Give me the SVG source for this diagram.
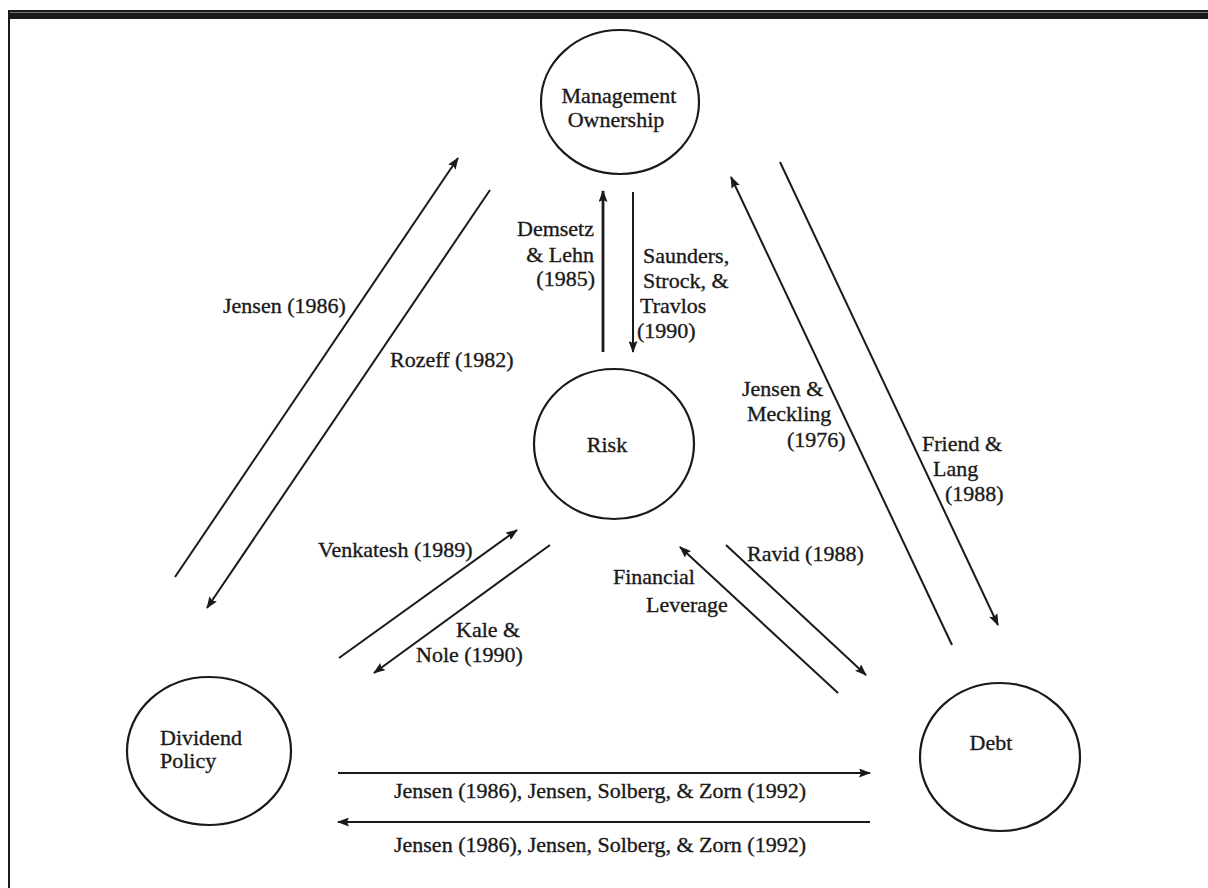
<svg xmlns="http://www.w3.org/2000/svg" width="1208" height="888" viewBox="0 0 1208 888">
<defs>
<marker id="ah" viewBox="0 0 12 9" refX="11" refY="4.5" markerWidth="12" markerHeight="9" markerUnits="userSpaceOnUse" orient="auto">
<path d="M0,0 L12,4.5 L0,9 L2,4.5 z" fill="#1a1a1a"/>
</marker>
<style>
.t{font-family:"Liberation Serif","Times New Roman",serif;font-size:22px;fill:#1a1a1a;stroke:#1a1a1a;stroke-width:0.35}
.m{text-anchor:middle}
.e{text-anchor:end}
.n{fill:none;stroke:#1a1a1a;stroke-width:2.2}
.c{fill:none;stroke:#1a1a1a;stroke-width:2;marker-end:url(#ah)}
</style>
</defs>
<rect width="1208" height="888" fill="#ffffff"/>
<g id="frame">
<rect x="8" y="10" width="1200" height="9" fill="#1a1a1a"/>
<line x1="10" y1="12.5" x2="1208" y2="12.5" stroke="#777" stroke-width="1"/>
<rect x="8" y="10" width="2" height="878" fill="#1a1a1a"/>
</g>
<g id="node-management">
<ellipse class="n" cx="620" cy="102" rx="79" ry="72"/>
<text class="t m" x="619" y="103">Management</text>
<text class="t m" x="616" y="127">Ownership</text>
</g>
<g id="node-risk">
<ellipse class="n" cx="614" cy="444" rx="80" ry="75"/>
<text class="t m" x="607" y="452">Risk</text>
</g>
<g id="node-dividend">
<ellipse class="n" cx="209" cy="751" rx="82" ry="74"/>
<text class="t" x="160" y="745">Dividend</text>
<text class="t" x="160" y="768">Policy</text>
</g>
<g id="node-debt">
<ellipse class="n" cx="1000" cy="757" rx="80" ry="74"/>
<text class="t m" x="991" y="750">Debt</text>
</g>
<g id="connectors">
<line class="c" x1="175" y1="577" x2="458" y2="158"/>
<line class="c" x1="490" y1="190" x2="207" y2="608"/>
<line class="c" x1="603" y1="352" x2="603" y2="191" style="stroke-width:2.8"/>
<line class="c" x1="633" y1="192" x2="633" y2="352"/>
<line class="c" x1="952" y1="645" x2="731" y2="177"/>
<line class="c" x1="780" y1="162" x2="998" y2="625"/>
<line class="c" x1="339" y1="658" x2="517" y2="530"/>
<line class="c" x1="550" y1="545" x2="374" y2="673"/>
<line class="c" x1="838" y1="693" x2="680" y2="547"/>
<line class="c" x1="726" y1="545" x2="866" y2="675"/>
<line class="c" x1="338" y1="773" x2="870" y2="773"/>
<line class="c" x1="870" y1="822" x2="338" y2="822"/>
</g>
<g id="labels">
<text class="t" x="223" y="313">Jensen (1986)</text>
<text class="t" x="390" y="367">Rozeff (1982)</text>
<text class="t e" x="594" y="236">Demsetz</text>
<text class="t e" x="594" y="262">&amp; Lehn</text>
<text class="t e" x="595" y="286">(1985)</text>
<text class="t" x="643" y="263">Saunders,</text>
<text class="t" x="643" y="288">Strock, &amp;</text>
<text class="t" x="640" y="313">Travlos</text>
<text class="t" x="637" y="338">(1990)</text>
<text class="t" x="742" y="396">Jensen &amp;</text>
<text class="t" x="747" y="421">Meckling</text>
<text class="t" x="787" y="447">(1976)</text>
<text class="t" x="922" y="451">Friend &amp;</text>
<text class="t" x="933" y="476">Lang</text>
<text class="t" x="945" y="501">(1988)</text>
<text class="t" x="318" y="557">Venkatesh (1989)</text>
<text class="t" x="456" y="637">Kale &amp;</text>
<text class="t" x="416" y="662">Nole (1990)</text>
<text class="t" x="747" y="561">Ravid (1988)</text>
<text class="t" x="613" y="584">Financial</text>
<text class="t" x="646" y="612">Leverage</text>
<text class="t m" x="600" y="798">Jensen (1986), Jensen, Solberg, &amp; Zorn (1992)</text>
<text class="t m" x="600" y="852">Jensen (1986), Jensen, Solberg, &amp; Zorn (1992)</text>
</g>
</svg>
